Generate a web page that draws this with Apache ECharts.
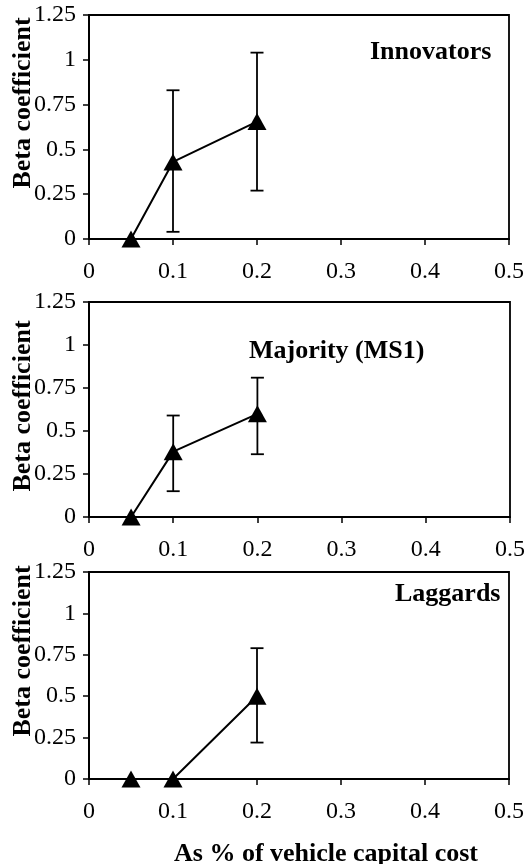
<!DOCTYPE html>
<html>
<head>
<meta charset="utf-8">
<script src="https://cdn.jsdelivr.net/npm/echarts@6/dist/echarts.min.js"></script>
<style>
html,body{margin:0;padding:0;background:#fff;}
#chart{width:529px;height:864px;}
</style>
</head>
<body>
<div id="chart"></div>
<script>
// ---- data ----
const xValues = [0.05, 0.1, 0.2];
const panelNames = ['Innovators', 'Majority (MS1)', 'Laggards'];
const innovatorsBeta = [0, 0.43, 0.655];
const innovatorsLow  = [null, 0.04, 0.27];
const innovatorsHigh = [null, 0.83, 1.04];
const majorityBeta = [0, 0.38, 0.60];
const majorityLow  = [null, 0.15, 0.365];
const majorityHigh = [null, 0.59, 0.81];
const laggardsBeta = [0, 0, 0.5];
const laggardsLow  = [null, null, 0.22];
const laggardsHigh = [null, null, 0.79];
const yTicks = [0, 0.25, 0.5, 0.75, 1, 1.25];
const xTicks = [0, 0.1, 0.2, 0.3, 0.4, 0.5];
const yAxisTitle = 'Beta coefficient';
const xAxisTitle = 'As % of vehicle capital cost';

const FONT = '"Liberation Serif", "Times New Roman", serif';
const panels = [
  {beta: innovatorsBeta, low: innovatorsLow, high: innovatorsHigh},
  {beta: majorityBeta, low: majorityLow, high: majorityHigh},
  {beta: laggardsBeta, low: laggardsLow, high: laggardsHigh}
];
const grids = [
  {left: 89, right: 20, top: 15, height: 224},
  {left: 89, right: 19, top: 302, height: 215},
  {left: 89, right: 20, top: 572, height: 207}
];

const chart = echarts.init(document.getElementById('chart'), null, {renderer: 'canvas'});

const xAxes = [], yAxes = [], series = [];
grids.forEach((g, i) => {
  g.show = true; g.borderColor = '#000'; g.borderWidth = 1.8;
  xAxes.push({
    type: 'value', gridIndex: i, min: xTicks[0], max: xTicks[xTicks.length - 1], interval: 0.1,
    axisLine: {show: true, onZero: false, lineStyle: {color: '#000', width: 2}},
    axisTick: {show: true, length: 6, lineStyle: {color: '#000', width: 1.5}},
    axisLabel: {color: '#000', fontFamily: FONT, fontSize: 24, margin: 21,
      formatter: v => String(Math.round(v * 10) / 10)},
    splitLine: {show: false}
  });
  yAxes.push({
    type: 'value', gridIndex: i, min: yTicks[0], max: yTicks[yTicks.length - 1], interval: 0.25,
    axisLine: {show: true, lineStyle: {color: '#000', width: 2}},
    axisTick: {show: true, length: 6, lineStyle: {color: '#000', width: 1.5}},
    axisLabel: {color: '#000', fontFamily: FONT, fontSize: 24, margin: 13},
    splitLine: {show: false}
  });
  const p = panels[i];
  const errData = [];
  xValues.forEach((x, k) => {
    if (p.low[k] !== null && p.high[k] !== null) errData.push([x, p.low[k], p.high[k]]);
  });
  series.push({
    type: 'custom', xAxisIndex: i, yAxisIndex: i, z: 3,
    data: errData,
    encode: {x: 0, y: [1, 2]},
    renderItem: function (params, api) {
      const x = api.value(0);
      const lo = api.coord([x, api.value(1)]);
      const hi = api.coord([x, api.value(2)]);
      const w = 6.5;
      const st = {stroke: '#000', lineWidth: 1.8};
      return {type: 'group', children: [
        {type: 'line', shape: {x1: lo[0], y1: lo[1], x2: hi[0], y2: hi[1]}, style: st},
        {type: 'line', shape: {x1: hi[0] - w, y1: hi[1], x2: hi[0] + w, y2: hi[1]}, style: st},
        {type: 'line', shape: {x1: lo[0] - w, y1: lo[1], x2: lo[0] + w, y2: lo[1]}, style: st}
      ]};
    }
  });
  series.push({
    type: 'line', xAxisIndex: i, yAxisIndex: i, z: 4,
    data: xValues.map((x, k) => [x, p.beta[k]]),
    symbol: 'triangle', symbolSize: [19, 17],
    itemStyle: {color: '#000'},
    lineStyle: {color: '#000', width: 2},
    animation: false
  });
});

const titleStyle = {fill: '#000', font: 'bold 26px ' + FONT};
const graphic = [
  {type: 'text', left: 370, top: 39, style: Object.assign({text: panelNames[0]}, titleStyle)},
  {type: 'text', left: 249, top: 338, style: Object.assign({text: panelNames[1]}, titleStyle)},
  {type: 'text', left: 395, top: 581, style: Object.assign({text: panelNames[2]}, titleStyle)},
  {type: 'text', x: 326, y: 854, style: Object.assign({text: xAxisTitle, textAlign: 'center', textVerticalAlign: 'middle'}, titleStyle)}
];
[103, 406, 651].forEach(cy => {
  graphic.push({type: 'text', x: 23, y: cy, rotation: Math.PI / 2,
    style: Object.assign({text: yAxisTitle, textAlign: 'center', textVerticalAlign: 'middle'}, titleStyle)});
});

chart.setOption({
  animation: false,
  backgroundColor: '#fff',
  grid: grids,
  xAxis: xAxes,
  yAxis: yAxes,
  series: series,
  graphic: graphic
});
</script>
</body>
</html>
